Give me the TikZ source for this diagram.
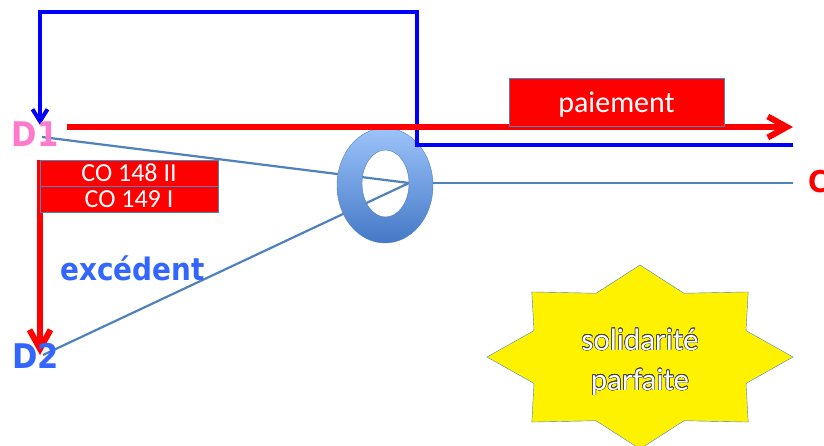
\documentclass[tikz,border=0pt]{standalone}
\usepackage{fontspec}
\setmainfont{Carlito}
\newfontfamily\labelfont[FakeStretch=0.9]{DejaVu Sans}
\usepackage{contour}
\contourlength{0.45pt}
\usetikzlibrary{arrows.meta}
\usetikzlibrary{calc}
\definecolor{linkblue}{HTML}{4F81BD}
\definecolor{dpink}{HTML}{FF79CC}
\definecolor{dblue}{HTML}{3366FF}
\definecolor{ringtop}{HTML}{9DC3FA}
\definecolor{ringbottom}{HTML}{4479C6}
\def\starrx{153}
\def\starry{92}
\def\starratio{0.75}

\begin{document}
\begin{tikzpicture} [x = 1 pt, y = -1 pt,
    debtor/.style = {font = \labelfont\bfseries\fontsize{34}{40}\selectfont, inner sep = 0},
    redbox/.style = {draw = linkblue, thin, fill = red, text = white, inner sep = 0},
    link/.style = {linkblue, line width = 2.2pt},
    payarrow/.style = {red, line width = 6pt,
      -{Straight Barb[length = 19pt, width = 21pt]}}]
    \useasboundingbox (0, 0) rectangle (824, 445);

    \coordinate (d1 end) at (42, 137);
    \coordinate (d2 end) at (43, 355);
    \coordinate (hub) at (409, 183);
    \coordinate (c end) at (793, 183);
    \coordinate (ring) at (385, 185.5);
    \coordinate (hole) at (385.5, 183.5);
    \coordinate (a) at (793, 145);
    \coordinate (b) at (417, 145);
    \coordinate (c) at (417, 12);
    \coordinate (d) at (40, 12);
    \coordinate (e) at (40, 125);
    \coordinate (pay start) at (67, 127);
    \coordinate (pay end) at (793, 127);
    \coordinate (exc start) at (40, 160);
    \coordinate (exc end) at (40, 355);

    \draw[link] (d1 end) -- (hub);
    \draw[link] (d2 end) -- (hub);
    \draw[link] (hub) -- (c end);

    \path[shade, top color = ringtop, bottom color = ringbottom, even odd rule]
      (ring) ellipse [x radius = 48, y radius = 57.5]
      (hole) ellipse [x radius = 23.5, y radius = 33.5];
    \draw[linkblue, thin] (ring) ellipse [x radius = 48, y radius = 57.5];
    \draw[linkblue, thin] (hole) ellipse [x radius = 23.5, y radius = 33.5];

    \draw[blue, line width = 4pt, line join = miter,
      -{Straight Barb[length = 12pt, width = 15pt]}]
      (a) -- (b) -- (c) -- (d) -- (e);

    \draw[payarrow] (pay start) -- (pay end);
    \draw[payarrow] (exc start) -- (exc end);

    \node[redbox, minimum width = 215, minimum height = 48,
      font = \fontsize{30}{36}\selectfont, text depth = 0pt]
      (pay) at (616.5, 102) {paiement};
    \node[redbox, minimum width = 178, minimum height = 26,
      font = \fontsize{26}{30}\selectfont]
      (co1) at (129, 173) {CO 148 II};
    \node[redbox, minimum width = 178, minimum height = 26,
      font = \fontsize{26}{30}\selectfont]
      (co2) at (129, 199) {CO 149 I};

    \node[debtor, dpink] (D1) at (35, 134.5) {D1};
    \node[debtor, dblue] (D2) at (35.5, 355.5) {D2};
    \node[debtor, dblue, font = \labelfont\bfseries\fontsize{31}{36}\selectfont,
      anchor = base west] (exc) at (60, 280) {excédent};
    \node[debtor, red, font = \labelfont\bfseries\fontsize{30}{36}\selectfont,
      anchor = base west] (C) at (808, 192) {C};

    % star
    \draw[linkblue, thin, fill = yellow, shift = {(640, 357)}]
      (0:{\starrx} and {\starry})
      \foreach \k in {1, ..., 15} {
        -- ({\k*22.5}:{\starrx*(1 - (1 - \starratio)*mod(\k, 2))}
            and {\starry*(1 - (1 - \starratio)*mod(\k, 2))})
      } -- cycle;
    \node[align = center, text = white, font = \fontsize{31}{40}\selectfont]
      (sol) at (640, 362) {\contour{darkgray}{solidarité}\\\contour{darkgray}{parfaite}};
  \end{tikzpicture}
\end{document}
